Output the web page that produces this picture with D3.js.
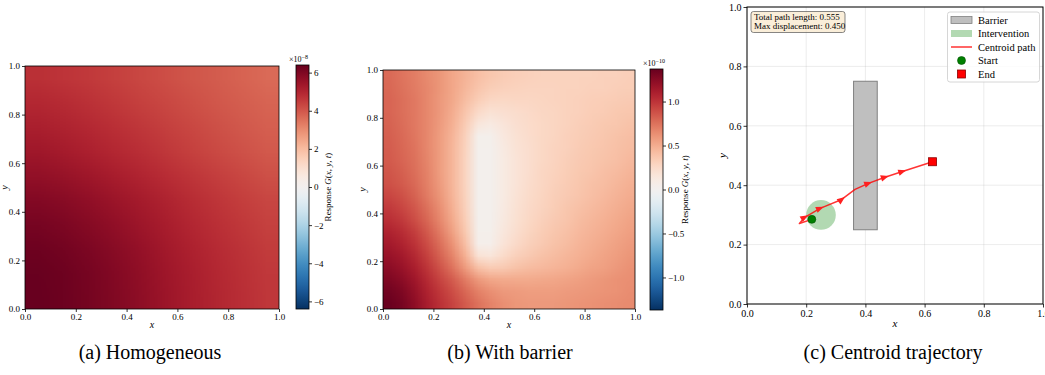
<!DOCTYPE html>
<html>
<head>
<meta charset="utf-8">
<script src="https://cdn.jsdelivr.net/npm/d3@7"></script>
<style>
  body { margin: 0; background: #fff; }
  svg { display: block; font-family: "Liberation Serif", "Times New Roman", "DejaVu Serif", serif; }
</style>
</head>
<body>
<svg id="fig" width="1045" height="375"></svg>
<script>
// ---- data ----
const unitTicks = [0, 0.2, 0.4, 0.6, 0.8, 1.0];

// (a) homogeneous response, units of 1e-8, rows top (y=0.95) -> bottom (y=0.05), cols x=0.05..0.95
const homogeneousField = [
  [4.75, 4.65, 4.55, 4.42, 4.28, 4.15, 4.02, 3.90, 3.78, 3.65],
  [4.95, 4.85, 4.72, 4.58, 4.43, 4.28, 4.14, 4.00, 3.87, 3.75],
  [5.15, 5.05, 4.92, 4.76, 4.60, 4.44, 4.28, 4.13, 3.98, 3.85],
  [5.38, 5.26, 5.12, 4.95, 4.78, 4.60, 4.43, 4.26, 4.10, 3.96],
  [5.64, 5.54, 5.38, 5.20, 5.01, 4.82, 4.63, 4.45, 4.28, 4.13],
  [5.92, 5.82, 5.66, 5.47, 5.26, 5.05, 4.84, 4.64, 4.46, 4.30],
  [6.12, 6.02, 5.86, 5.66, 5.43, 5.20, 4.97, 4.76, 4.58, 4.41],
  [6.28, 6.18, 6.02, 5.82, 5.58, 5.33, 5.09, 4.87, 4.68, 4.50],
  [6.36, 6.28, 6.12, 5.92, 5.68, 5.42, 5.17, 4.95, 4.75, 4.57],
  [6.38, 6.30, 6.15, 5.95, 5.72, 5.45, 5.20, 4.98, 4.78, 4.60]
];
const homogeneousLimit = 6.4;
const homogeneousCbarTicks = [-6, -4, -2, 0, 2, 4, 6];

// (b) response with barrier, units of 1e-10, rows top (y=0.975) -> bottom (y=0.025), cols x=0.025..0.975
const barrierField = [
  [0.78, 0.74, 0.70, 0.65, 0.60, 0.53, 0.47, 0.41, 0.37, 0.34, 0.32, 0.31, 0.30, 0.30, 0.30, 0.30, 0.30, 0.31, 0.31, 0.32],
  [0.79, 0.75, 0.71, 0.66, 0.60, 0.53, 0.45, 0.38, 0.33, 0.31, 0.30, 0.29, 0.29, 0.29, 0.30, 0.30, 0.31, 0.31, 0.32, 0.33],
  [0.80, 0.76, 0.72, 0.66, 0.59, 0.52, 0.42, 0.33, 0.27, 0.26, 0.27, 0.27, 0.28, 0.29, 0.30, 0.31, 0.32, 0.33, 0.34, 0.35],
  [0.80, 0.76, 0.72, 0.66, 0.59, 0.50, 0.38, 0.25, 0.19, 0.21, 0.23, 0.25, 0.27, 0.28, 0.30, 0.31, 0.33, 0.34, 0.36, 0.37],
  [0.81, 0.77, 0.72, 0.66, 0.58, 0.48, 0.34, 0.15, 0.11, 0.16, 0.21, 0.24, 0.26, 0.28, 0.30, 0.32, 0.34, 0.36, 0.37, 0.39],
  [0.82, 0.78, 0.73, 0.66, 0.57, 0.46, 0.31, 0.03, 0.03, 0.13, 0.19, 0.23, 0.26, 0.28, 0.31, 0.33, 0.35, 0.37, 0.39, 0.41],
  [0.83, 0.79, 0.74, 0.66, 0.57, 0.45, 0.30, 0.02, 0.02, 0.11, 0.18, 0.22, 0.26, 0.29, 0.31, 0.34, 0.36, 0.38, 0.40, 0.42],
  [0.84, 0.80, 0.75, 0.67, 0.57, 0.45, 0.29, 0.02, 0.02, 0.10, 0.17, 0.22, 0.26, 0.29, 0.32, 0.35, 0.37, 0.39, 0.41, 0.44],
  [0.86, 0.82, 0.76, 0.68, 0.57, 0.45, 0.29, 0.02, 0.02, 0.10, 0.17, 0.22, 0.27, 0.30, 0.33, 0.36, 0.38, 0.41, 0.43, 0.46],
  [0.88, 0.84, 0.78, 0.69, 0.58, 0.45, 0.29, 0.02, 0.02, 0.10, 0.17, 0.23, 0.27, 0.31, 0.34, 0.37, 0.40, 0.42, 0.45, 0.48],
  [0.92, 0.88, 0.81, 0.71, 0.60, 0.46, 0.30, 0.02, 0.02, 0.10, 0.18, 0.24, 0.28, 0.32, 0.35, 0.38, 0.41, 0.44, 0.47, 0.50],
  [0.97, 0.92, 0.85, 0.75, 0.63, 0.48, 0.31, 0.02, 0.02, 0.11, 0.19, 0.25, 0.29, 0.33, 0.37, 0.40, 0.43, 0.46, 0.49, 0.52],
  [1.02, 0.97, 0.89, 0.79, 0.66, 0.51, 0.33, 0.02, 0.02, 0.12, 0.20, 0.26, 0.31, 0.35, 0.38, 0.42, 0.45, 0.48, 0.51, 0.54],
  [1.08, 1.03, 0.95, 0.84, 0.71, 0.55, 0.36, 0.03, 0.03, 0.14, 0.22, 0.28, 0.33, 0.37, 0.40, 0.44, 0.47, 0.50, 0.53, 0.56],
  [1.13, 1.08, 1.00, 0.89, 0.76, 0.61, 0.41, 0.04, 0.04, 0.17, 0.25, 0.31, 0.35, 0.39, 0.42, 0.46, 0.49, 0.52, 0.55, 0.58],
  [1.18, 1.13, 1.05, 0.94, 0.81, 0.67, 0.48, 0.18, 0.15, 0.24, 0.31, 0.35, 0.39, 0.42, 0.45, 0.48, 0.51, 0.54, 0.57, 0.60],
  [1.23, 1.18, 1.10, 0.99, 0.87, 0.74, 0.58, 0.40, 0.34, 0.35, 0.39, 0.42, 0.44, 0.46, 0.48, 0.51, 0.54, 0.56, 0.59, 0.62],
  [1.28, 1.23, 1.15, 1.04, 0.93, 0.83, 0.71, 0.59, 0.53, 0.51, 0.51, 0.51, 0.52, 0.53, 0.54, 0.56, 0.58, 0.60, 0.62, 0.63],
  [1.33, 1.28, 1.19, 1.08, 0.98, 0.89, 0.79, 0.69, 0.63, 0.59, 0.58, 0.57, 0.57, 0.57, 0.58, 0.59, 0.60, 0.61, 0.62, 0.64],
  [1.36, 1.31, 1.22, 1.11, 1.01, 0.93, 0.84, 0.75, 0.68, 0.63, 0.60, 0.59, 0.59, 0.59, 0.60, 0.61, 0.62, 0.63, 0.64, 0.65]
];
const barrierLimit = 1.37;
const barrierCbarTicks = [-1.0, -0.5, 0.0, 0.5, 1.0];

// (c) centroid trajectory
const pathX = [0.219, 0.177, 0.195, 0.247, 0.320, 0.365, 0.410, 0.466, 0.525, 0.627];
const pathY = [0.285, 0.271, 0.292, 0.322, 0.352, 0.386, 0.406, 0.427, 0.446, 0.479];
const arrowAt = [2, 3, 4, 6, 7, 8];
const barrierX = [0.36, 0.44];
const barrierY = [0.25, 0.75];
const interventionCenter = [0.25, 0.30];
const interventionRadius = 0.05;
const pathLength = 0.555;
const maxDisplacement = 0.450;
const legendLabels = ["Barrier", "Intervention", "Centroid path", "Start", "End"];

const captions = ["(a) Homogeneous", "(b) With barrier", "(c) Centroid trajectory"];

// ---- drawing ----
const svg = d3.select("#fig");
const fmt1 = d3.format(".1f");
const serif = '"Liberation Serif", "Times New Roman", serif';

function fieldImage(field, color) {
  const rows = field.length, cols = field[0].length;
  const cv = document.createElement("canvas");
  cv.width = cols; cv.height = rows;
  const ctx = cv.getContext("2d");
  field.forEach((row, j) => row.forEach((v, i) => {
    ctx.fillStyle = color(v);
    ctx.fillRect(i, j, 1, 1);
  }));
  return cv.toDataURL();
}

function styleAxis(g, size) {
  g.attr("font-family", serif);
  g.select(".domain").remove();
  g.selectAll(".tick line").attr("stroke", "#000").attr("stroke-width", 0.8);
  g.selectAll(".tick text").attr("fill", "#000").style("font-size", size + "px");
}

function heatPanel(opt) {
  const x = d3.scaleLinear([0, 1], [opt.x0, opt.x1]);
  const y = d3.scaleLinear([0, 1], [opt.y1, opt.y0]);
  const color = d3.scaleDiverging(t => d3.interpolateRdBu(1 - t))
    .domain([-opt.limit, 0, opt.limit]);

  svg.append("image")
    .attr("x", opt.x0).attr("y", opt.y0)
    .attr("width", opt.x1 - opt.x0).attr("height", opt.y1 - opt.y0)
    .attr("preserveAspectRatio", "none")
    .attr("href", fieldImage(opt.field, color));

  svg.append("rect")
    .attr("x", opt.x0).attr("y", opt.y0)
    .attr("width", opt.x1 - opt.x0).attr("height", opt.y1 - opt.y0)
    .attr("fill", "none").attr("stroke", "#000").attr("stroke-width", 0.8);

  svg.append("g").attr("transform", `translate(0,${opt.y1})`)
    .call(d3.axisBottom(x).tickValues(unitTicks).tickFormat(fmt1).tickSize(3).tickPadding(2))
    .call(g => styleAxis(g, 9));
  svg.append("g").attr("transform", `translate(${opt.x0},0)`)
    .call(d3.axisLeft(y).tickValues(unitTicks).tickFormat(fmt1).tickSize(3).tickPadding(2))
    .call(g => styleAxis(g, 9));

  svg.append("text").attr("x", (opt.x0 + opt.x1) / 2).attr("y", opt.y1 + 19)
    .attr("text-anchor", "middle").style("font-size", "10px").style("font-style", "italic").text("x");
  svg.append("text")
    .attr("transform", `translate(${opt.x0 - 17},${(opt.y0 + opt.y1) / 2}) rotate(-90)`)
    .attr("text-anchor", "middle").style("font-size", "10px").style("font-style", "italic").text("y");

  // colorbar
  const cb = opt.cbar;
  const cy = d3.scaleLinear([-opt.limit, opt.limit], [cb.y1, cb.y0]);
  const gradId = "grad" + opt.id;
  const grad = svg.append("defs").append("linearGradient").attr("id", gradId)
    .attr("x1", 0).attr("y1", 1).attr("x2", 0).attr("y2", 0);
  d3.range(0, 1.0001, 0.02).forEach(t => {
    grad.append("stop").attr("offset", t).attr("stop-color", color(-opt.limit + 2 * opt.limit * t));
  });
  svg.append("rect").attr("x", cb.x0).attr("y", cb.y0)
    .attr("width", cb.x1 - cb.x0).attr("height", cb.y1 - cb.y0)
    .attr("fill", `url(#${gradId})`).attr("stroke", "#000").attr("stroke-width", 0.8);
  svg.append("g").attr("transform", `translate(${cb.x1},0)`)
    .call(d3.axisRight(cy).tickValues(opt.cbarTicks).tickFormat(opt.cbarFormat).tickSize(3).tickPadding(2))
    .call(g => styleAxis(g, 9));

  const off = svg.append("text").attr("x", cb.x0 - 7).attr("y", cb.y0 - 3)
    .style("font-size", "8px");
  off.append("tspan").text("×10");
  off.append("tspan").attr("dy", -3.5).style("font-size", "6px").text(opt.exponent);

  const lab = svg.append("text")
    .attr("transform", `translate(${cb.labelX},${(cb.y0 + cb.y1) / 2}) rotate(-90)`)
    .attr("text-anchor", "middle").style("font-size", "9px");
  lab.append("tspan").text("Response ");
  lab.append("tspan").style("font-style", "italic").text("G");
  lab.append("tspan").text("(");
  lab.append("tspan").style("font-style", "italic").text("x");
  lab.append("tspan").text(", ");
  lab.append("tspan").style("font-style", "italic").text("y");
  lab.append("tspan").text(", ");
  lab.append("tspan").style("font-style", "italic").text("t");
  lab.append("tspan").text(")");
}

heatPanel({
  id: "a", x0: 25, x1: 279, y0: 66, y1: 309,
  field: homogeneousField, limit: homogeneousLimit,
  cbar: { x0: 296, x1: 309, y0: 65, y1: 309, labelX: 331 },
  cbarTicks: homogeneousCbarTicks, cbarFormat: d3.format("d"), exponent: "−8"
});

heatPanel({
  id: "b", x0: 383, x1: 635, y0: 70, y1: 309,
  field: barrierField, limit: barrierLimit,
  cbar: { x0: 650, x1: 663, y0: 69, y1: 310, labelX: 688 },
  cbarTicks: barrierCbarTicks, cbarFormat: fmt1, exponent: "−10"
});

// ---- panel (c) ----
const cx0 = 747, cx1 = 1043, cy0 = 7, cy1 = 304;
const xc = d3.scaleLinear([0, 1], [cx0, cx1]);
const yc = d3.scaleLinear([0, 1], [cy1, cy0]);
const pc = svg.append("g");

// grid
pc.selectAll(".gx").data(unitTicks).join("line")
  .attr("x1", d => xc(d)).attr("x2", d => xc(d)).attr("y1", cy0).attr("y2", cy1)
  .attr("stroke", "#b0b0b0").attr("stroke-opacity", 0.3).attr("stroke-width", 0.8);
pc.selectAll(".gy").data(unitTicks).join("line")
  .attr("y1", d => yc(d)).attr("y2", d => yc(d)).attr("x1", cx0).attr("x2", cx1)
  .attr("stroke", "#b0b0b0").attr("stroke-opacity", 0.3).attr("stroke-width", 0.8);

// barrier
pc.append("rect")
  .attr("x", xc(barrierX[0])).attr("y", yc(barrierY[1]))
  .attr("width", xc(barrierX[1]) - xc(barrierX[0])).attr("height", yc(barrierY[0]) - yc(barrierY[1]))
  .attr("fill", "#bfbfbf").attr("stroke", "#808080").attr("stroke-width", 1);

// intervention
pc.append("ellipse")
  .attr("cx", xc(interventionCenter[0])).attr("cy", yc(interventionCenter[1]))
  .attr("rx", xc(interventionRadius) - xc(0)).attr("ry", yc(0) - yc(interventionRadius))
  .attr("fill", "#008000").attr("fill-opacity", 0.3);

// path
const line = d3.line().x(d => xc(d[0])).y(d => yc(d[1]));
const pts = pathX.map((v, i) => [v, pathY[i]]);
pc.append("path").attr("d", line(pts))
  .attr("fill", "none").attr("stroke", "#ff0000").attr("stroke-opacity", 0.8)
  .attr("stroke-width", 1.5).attr("stroke-linejoin", "round");

pc.selectAll(".arrow").data(arrowAt).join("path")
  .attr("d", "M4,0 L-4,-3.2 L-4,3.2 Z")
  .attr("fill", "#ff2020")
  .attr("transform", i => {
    const a = pts[i], b = pts[i + 1];
    const ang = Math.atan2(yc(b[1]) - yc(a[1]), xc(b[0]) - xc(a[0])) * 180 / Math.PI;
    return `translate(${xc(a[0])},${yc(a[1])}) rotate(${ang})`;
  });

// start & end
const start = pts[0], end = pts[pts.length - 1];
pc.append("circle").attr("cx", xc(start[0])).attr("cy", yc(start[1])).attr("r", 4)
  .attr("fill", "#008000").attr("stroke", "#005000").attr("stroke-width", 0.6);
pc.append("rect").attr("x", xc(end[0]) - 4).attr("y", yc(end[1]) - 4).attr("width", 8).attr("height", 8)
  .attr("fill", "#ff0000").attr("stroke", "#8b0000").attr("stroke-width", 0.8);

// frame and axes
pc.append("rect").attr("x", cx0).attr("y", cy0).attr("width", cx1 - cx0).attr("height", cy1 - cy0)
  .attr("fill", "none").attr("stroke", "#000").attr("stroke-width", 1);
pc.append("g").attr("transform", `translate(0,${cy1})`)
  .call(d3.axisBottom(xc).tickValues(unitTicks).tickFormat(fmt1).tickSize(3.5).tickPadding(2))
  .call(g => styleAxis(g, 10));
pc.append("g").attr("transform", `translate(${cx0},0)`)
  .call(d3.axisLeft(yc).tickValues(unitTicks).tickFormat(fmt1).tickSize(3.5).tickPadding(2))
  .call(g => styleAxis(g, 10));
pc.append("text").attr("x", (cx0 + cx1) / 2).attr("y", cy1 + 23)
  .attr("text-anchor", "middle").style("font-size", "11px").style("font-style", "italic").text("x");
pc.append("text").attr("transform", `translate(${cx0 - 21},${(cy0 + cy1) / 2}) rotate(-90)`)
  .attr("text-anchor", "middle").style("font-size", "11px").style("font-style", "italic").text("y");

// stats box
pc.append("rect").attr("x", 751).attr("y", 11.5).attr("width", 94).attr("height", 21).attr("rx", 2.5)
  .attr("fill", "#f5deb3").attr("fill-opacity", 0.5).attr("stroke", "#555").attr("stroke-width", 0.7);
pc.append("text").attr("x", 754).attr("y", 20).style("font-size", "9px")
  .text(`Total path length: ${d3.format(".3f")(pathLength)}`);
pc.append("text").attr("x", 754).attr("y", 29).style("font-size", "9px")
  .text(`Max displacement: ${d3.format(".3f")(maxDisplacement)}`);

// legend
const lg = pc.append("g");
lg.append("rect").attr("x", 947.5).attr("y", 12).attr("width", 92).attr("height", 70).attr("rx", 2.5)
  .attr("fill", "#fff").attr("fill-opacity", 0.8).attr("stroke", "#ccc").attr("stroke-width", 0.8);
const ly = d3.scalePoint(legendLabels, [20, 74]);
const hx0 = 951, hx1 = 972;
lg.append("rect").attr("x", hx0).attr("y", ly("Barrier") - 3.5).attr("width", hx1 - hx0).attr("height", 7)
  .attr("fill", "#bfbfbf").attr("stroke", "#808080").attr("stroke-width", 0.8);
lg.append("rect").attr("x", hx0).attr("y", ly("Intervention") - 3.5).attr("width", hx1 - hx0).attr("height", 7)
  .attr("fill", "#008000").attr("fill-opacity", 0.3);
lg.append("line").attr("x1", hx0).attr("x2", hx1).attr("y1", ly("Centroid path")).attr("y2", ly("Centroid path"))
  .attr("stroke", "#ff0000").attr("stroke-opacity", 0.8).attr("stroke-width", 1.5);
lg.append("circle").attr("cx", (hx0 + hx1) / 2).attr("cy", ly("Start")).attr("r", 4)
  .attr("fill", "#008000").attr("stroke", "#005000").attr("stroke-width", 0.6);
lg.append("rect").attr("x", (hx0 + hx1) / 2 - 4).attr("y", ly("End") - 4).attr("width", 8).attr("height", 8)
  .attr("fill", "#ff0000").attr("stroke", "#8b0000").attr("stroke-width", 0.8);
lg.selectAll(".lt").data(legendLabels).join("text")
  .attr("x", 978).attr("y", d => ly(d) + 3.5).style("font-size", "10.5px").text(d => d);

// captions
const capX = [150, 510, 893];
svg.selectAll(".cap").data(captions).join("text")
  .attr("x", (d, i) => capX[i]).attr("y", 359).attr("text-anchor", "middle")
  .style("font-size", "20px").text(d => d);
</script>
</body>
</html>
